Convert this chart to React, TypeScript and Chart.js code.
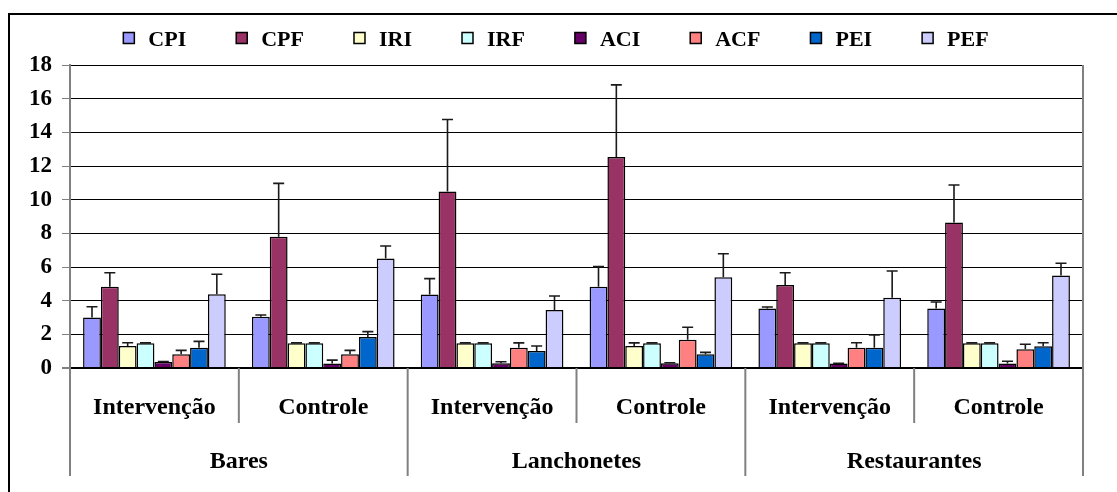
import React, { useEffect, useRef } from 'react';
import { Chart, registerables } from 'chart.js';

Chart.register(...registerables);

const subCategories = ['Intervenção', 'Controle', 'Intervenção', 'Controle', 'Intervenção', 'Controle'];
const groups = ['Bares', 'Lanchonetes', 'Restaurantes'];
const seriesNames = ['CPI', 'CPF', 'IRI', 'IRF', 'ACI', 'ACF', 'PEI', 'PEF'];
const seriesColors = ['#9999FF', '#993366', '#FFFFCC', '#CCFFFF', '#660066', '#FF8080', '#0066CC', '#CCCCFF'];

const CPI = [3.0, 3.05, 4.36, 4.83, 3.53, 3.53];
const CPF = [4.83, 7.8, 10.48, 12.54, 4.93, 8.65];
const IRI = [1.31, 1.47, 1.47, 1.31, 1.47, 1.47];
const IRF = [1.47, 1.47, 1.47, 1.47, 1.47, 1.47];
const ACI = [0.36, 0.26, 0.28, 0.28, 0.26, 0.26];
const ACF = [0.81, 0.81, 1.21, 1.68, 1.21, 1.11];
const PEI = [1.21, 1.84, 1.01, 0.81, 1.21, 1.29];
const PEF = [4.38, 6.5, 3.45, 5.39, 4.18, 5.49];

const CPI_ERR = [0.64, 0.1, 0.95, 1.19, 0.09, 0.39];
const CPF_ERR = [0.83, 3.17, 4.28, 4.28, 0.73, 2.22];
const IRI_ERR = [0.19, 0.02, 0.02, 0.18, 0.02, 0.02];
const IRF_ERR = [0.02, 0.02, 0.02, 0.02, 0.02, 0.02];
const ACI_ERR = [0.03, 0.21, 0.09, 0.03, 0.02, 0.14];
const ACF_ERR = [0.24, 0.24, 0.28, 0.74, 0.29, 0.3];
const PEI_ERR = [0.37, 0.32, 0.3, 0.12, 0.75, 0.21];
const PEF_ERR = [1.19, 0.75, 0.83, 1.4, 1.58, 0.73];

const seriesValues = [CPI, CPF, IRI, IRF, ACI, ACF, PEI, PEF];
const seriesErrors = [CPI_ERR, CPF_ERR, IRI_ERR, IRF_ERR, ACI_ERR, ACF_ERR, PEI_ERR, PEF_ERR];

const Y_MIN = 0;
const Y_MAX = 18;
const Y_STEP = 2;

const FONT_FAMILY = '"Liberation Serif", "Times New Roman", Times, serif';

const decorPlugin = {
  id: 'decor',
  afterDatasetsDraw(chart: any) {
    const ctx = chart.ctx;
    const yScale = chart.scales.y;
    ctx.save();
    ctx.strokeStyle = '#1a1a1a';
    ctx.lineWidth = 1.6;
    chart.data.datasets.forEach((ds: any, di: number) => {
      const meta = chart.getDatasetMeta(di);
      const errs = seriesErrors[di];
      meta.data.forEach((bar: any, i: number) => {
        const v = ds.data[i];
        const e = errs[i];
        const x = bar.x;
        const y0 = yScale.getPixelForValue(v);
        const y1 = yScale.getPixelForValue(v + e);
        ctx.beginPath();
        ctx.moveTo(x, y0);
        ctx.lineTo(x, y1);
        ctx.moveTo(x - 5.5, y1);
        ctx.lineTo(x + 5.5, y1);
        ctx.stroke();
      });
    });
    ctx.restore();
  },
  afterDraw(chart: any) {
    const ctx = chart.ctx;
    const xScale = chart.scales.x;
    const area = chart.chartArea;
    const n = subCategories.length;
    const half = (xScale.getPixelForValue(1) - xScale.getPixelForValue(0)) / 2;
    const bottom = area.bottom;
    const subBottom = bottom + 55;
    const groupBottom = bottom + 108;

    ctx.save();
    // outer border
    ctx.strokeStyle = '#000';
    ctx.lineWidth = 2;
    ctx.strokeRect(9, 14, 1300, 700);

    // separators
    ctx.strokeStyle = '#808080';
    ctx.lineWidth = 2;
    for (let k = 0; k <= n; k++) {
      const x = k < n ? xScale.getPixelForValue(k) - half : xScale.getPixelForValue(n - 1) + half;
      const isGroup = k % 2 === 0;
      ctx.beginPath();
      ctx.moveTo(x, bottom);
      ctx.lineTo(x, isGroup ? groupBottom : subBottom);
      ctx.stroke();
    }
    // right edge of plot
    ctx.beginPath();
    ctx.moveTo(area.right, area.top);
    ctx.lineTo(area.right, bottom);
    ctx.stroke();

    // category labels
    ctx.fillStyle = '#000';
    ctx.textAlign = 'center';
    ctx.textBaseline = 'alphabetic';
    ctx.font = 'bold 24px ' + FONT_FAMILY;
    subCategories.forEach((lab, i) => {
      ctx.fillText(lab, xScale.getPixelForValue(i), bottom + 46);
    });
    groups.forEach((g, gi) => {
      const cx = (xScale.getPixelForValue(gi * 2) + xScale.getPixelForValue(gi * 2 + 1)) / 2;
      ctx.fillText(g, cx, bottom + 100);
    });

    // legend
    ctx.font = 'bold 22px ' + FONT_FAMILY;
    const box = 11;
    const gapBoxText = 14;
    const gapItem = 50;
    const widths = seriesNames.map((s) => ctx.measureText(s).width);
    const total = widths.reduce((a, w) => a + box + gapBoxText + w, 0) + gapItem * (seriesNames.length - 1);
    let x = 556 - total / 2;
    const yMid = 38;
    ctx.textAlign = 'left';
    seriesNames.forEach((s, i) => {
      ctx.fillStyle = seriesColors[i];
      ctx.fillRect(x, yMid - box / 2, box, box);
      ctx.strokeStyle = '#000';
      ctx.lineWidth = 1.5;
      ctx.strokeRect(x, yMid - box / 2, box, box);
      ctx.fillStyle = '#000';
      ctx.fillText(s, x + box + gapBoxText, 46);
      x += box + gapBoxText + widths[i] + gapItem;
    });
    ctx.restore();
  },
};

export default function App() {
  const canvasRef = useRef<HTMLCanvasElement | null>(null);

  useEffect(() => {
    const canvas = canvasRef.current;
    if (!canvas) return;
    const chart = new Chart(canvas, {
      type: 'bar',
      data: {
        labels: subCategories,
        datasets: seriesNames.map((name, i) => ({
          label: name,
          data: seriesValues[i],
          backgroundColor: seriesColors[i],
          borderColor: '#000',
          borderWidth: 1.5,
          categoryPercentage: 0.845,
          barPercentage: 1.0,
        })),
      },
      options: {
        animation: false,
        responsive: false,
        devicePixelRatio: 1,
        layout: { padding: { top: 65, right: 34, bottom: 124, left: 0 } },
        plugins: {
          legend: { display: false },
          tooltip: { enabled: false },
        },
        scales: {
          x: {
            display: false,
            grid: { display: false },
          },
          y: {
            min: Y_MIN,
            max: Y_MAX,
            afterFit: (scale: any) => {
              scale.width = 70;
            },
            ticks: {
              stepSize: Y_STEP,
              color: '#000',
              padding: 10,
              font: { family: FONT_FAMILY, size: 23, weight: 'bold' },
            },
            grid: {
              color: '#000',
              lineWidth: (c: any) => (c.tick && c.tick.value === 0 ? 2 : 1),
              tickLength: 8,
              tickColor: '#808080',
              drawTicks: true,
            },
            border: { display: true, color: '#808080', width: 2 },
          },
        },
      },
      plugins: [decorPlugin],
    } as any);
    return () => chart.destroy();
  }, []);

  return (
    <div style={{ position: 'absolute', left: 0, top: 0, width: 1117, height: 492, background: '#fff' }}>
      <canvas ref={canvasRef} width={1117} height={492} style={{ display: 'block' }} />
    </div>
  );
}
